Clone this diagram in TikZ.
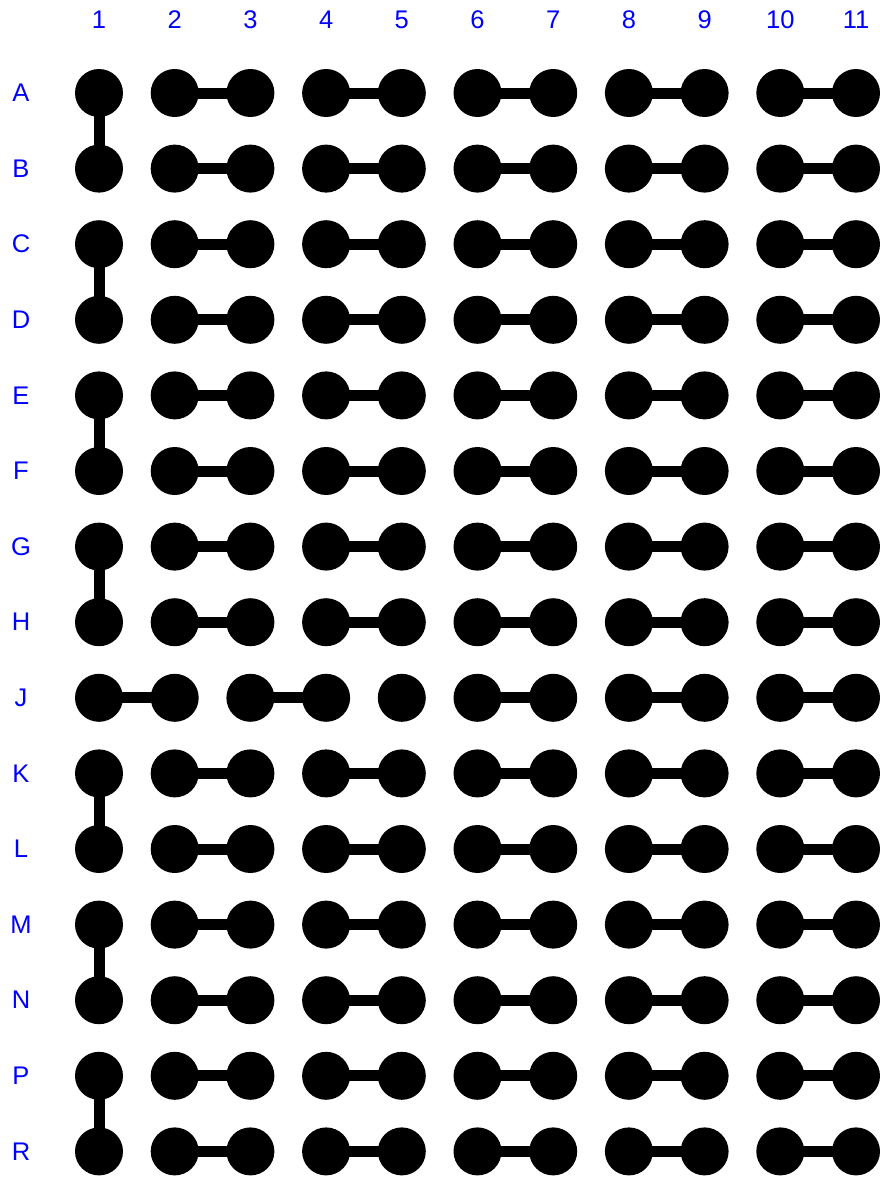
\documentclass[tikz,border=0pt]{standalone}
\usepackage{fontspec}
\setmainfont{Liberation Sans}
\begin{document}
\begin{tikzpicture}[x=1pt,y=-1pt,
  hole/.style={circle,fill=black,minimum size=48pt,inner sep=0pt,outer sep=0pt},
  lbl/.style={text=blue,font=\fontsize{25.5}{25.5}\selectfont,inner sep=0pt},
  link/.style={line width=11pt,draw=black,shorten <=-6pt,shorten >=-6pt}]
\useasboundingbox (0,0) rectangle (879,1178);
\foreach \r [count=\i from 0] in {A,B,C,D,E,F,G,H,J,K,L,M,N,P,R}{
  \node[lbl] (row\r) at (21,{93+75.6*\i}) {\r};
  \foreach \c in {1,...,11}{
    \node[hole] (\r\c) at ({99+75.7*(\c-1)},{93+75.6*\i}) {};
  }
}
\foreach \c in {1,...,11}{
  \node[lbl] (col\c) at ({99+75.7*(\c-1)},20) {\c};
}
\foreach \r in {A,B,C,D,E,F,G,H,K,L,M,N,P,R}{
  \foreach \a/\b in {2/3,4/5,6/7,8/9,10/11}{
    \draw[link] (\r\a) -- (\r\b);
  }
}
\foreach \a/\b in {A/B,C/D,E/F,G/H,K/L,M/N,P/R}{
  \draw[link] (\a1) -- (\b1);
}
\foreach \a/\b in {1/2,3/4,6/7,8/9,10/11}{
  \draw[link] (J\a) -- (J\b);
}
\end{tikzpicture}
\end{document}
